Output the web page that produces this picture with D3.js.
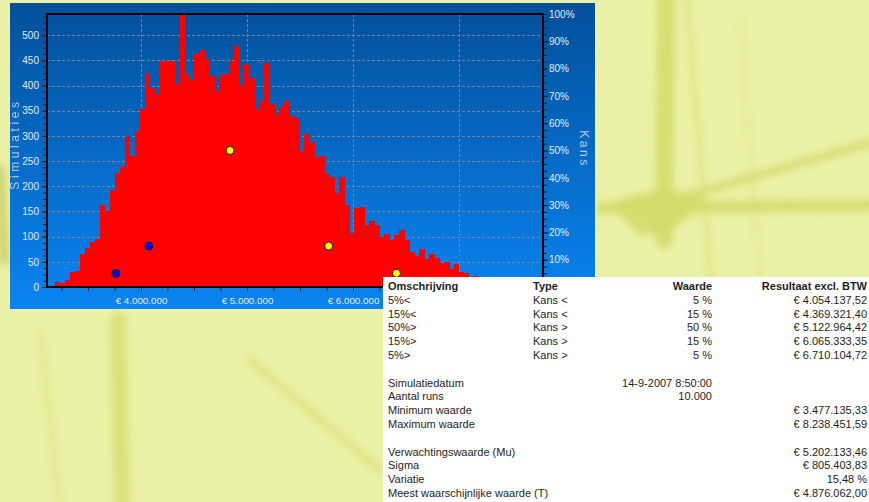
<!DOCTYPE html>
<html>
<head>
<meta charset="utf-8">
<script src="https://cdn.jsdelivr.net/npm/d3@7"></script>
<style>
  body { margin: 0; background: #ebf1a6; overflow: hidden; }
  svg { display: block; }
</style>
</head>
<body>
<div id="chart"></div>
<script>
// Monte Carlo histogram (simulaties per bin)

// bins: first bin lower edge and bin width (euro)
const binStart = 3091500;
const binWidth = 47100;
const counts = [
  2, 2, 9, 7, 13, 29, 32, 65, 78, 90,
  95, 163, 151, 193, 226, 239, 300, 261, 310, 354,
  424, 396, 383, 449, 449, 448, 403, 542, 423, 411,
  463, 471, 452, 419, 389, 420, 423, 449, 478, 401,
  443, 414, 353, 369, 444, 364, 343, 357, 369, 340,
  333, 270, 303, 287, 259, 260, 224, 219, 186, 219,
  162, 108, 156, 158, 123, 131, 123, 100, 106, 94,
  104, 113, 93, 70, 62, 75, 56, 65, 57, 48,
  49, 36, 46, 29, 27, 19, 21, 15, 13, 11,
  9, 8, 6, 5, 4, 3, 3, 2, 1, 1
];

// percentile markers (x in euro, y in % kans)
const markerValues = [3763000, 4074000, 4840000, 5770000, 6410000];
const markerChance = [5, 15, 50, 15, 5];
const markerColors = ["#0000ff", "#0000ff", "#ffff00", "#ffff00", "#ffff00"];

const xTicks = [4000000, 5000000, 6000000, 7000000];
const yTicks = [0, 50, 100, 150, 200, 250, 300, 350, 400, 450, 500];
const pctTicks = [10, 20, 30, 40, 50, 60, 70, 80, 90, 100];

// table below the chart
const tableHeader = ["Omschrijving", "Type", "Waarde", "Resultaat excl. BTW"];
const tableRows = [
  ["5%<", "Kans <", "5 %", "€ 4.054.137,52"],
  ["15%<", "Kans <", "15 %", "€ 4.369.321,40"],
  ["50%>", "Kans >", "50 %", "€ 5.122.964,42"],
  ["15%>", "Kans >", "15 %", "€ 6.065.333,35"],
  ["5%>", "Kans >", "5 %", "€ 6.710.104,72"],
  ["", "", "", ""],
  ["Simulatiedatum", "", "14-9-2007 8:50:00", ""],
  ["Aantal runs", "", "10.000", ""],
  ["Minimum waarde", "", "", "€ 3.477.135,33"],
  ["Maximum waarde", "", "", "€ 8.238.451,59"],
  ["", "", "", ""],
  ["Verwachtingswaarde (Mu)", "", "", "€ 5.202.133,46"],
  ["Sigma", "", "", "€ 805.403,83"],
  ["Variatie", "", "", "15,48 %"],
  ["Meest waarschijnlijke waarde (T)", "", "", "€ 4.876.062,00"]
];

const W = 869, H = 502;
const panel = {x: 10, y: 3, w: 585, h: 306};
const plot = {left: 47, top: 14, right: 543, bottom: 287};

const svg = d3.select("#chart")
    .append("svg")
    .attr("width", W)
    .attr("height", H)
    .style("font-family", "'Liberation Sans', Arial, sans-serif");

const defs = svg.append("defs");
const grad = defs.append("linearGradient")
    .attr("id", "bluegrad")
    .attr("x1", 0).attr("y1", 0).attr("x2", 0).attr("y2", 1);
grad.append("stop").attr("offset", "0%").attr("stop-color", "#02509a");
grad.append("stop").attr("offset", "100%").attr("stop-color", "#0a84f2");

defs.append("filter").attr("id", "blur")
    .attr("x", "-20%").attr("y", "-20%").attr("width", "140%").attr("height", "140%")
  .append("feGaussianBlur").attr("stdDeviation", 3.5);

defs.append("clipPath").attr("id", "plotclip")
  .append("rect")
    .attr("x", plot.left).attr("y", plot.top)
    .attr("width", plot.right - plot.left)
    .attr("height", plot.bottom - plot.top);

// blurred photo in the background
const bg = svg.append("g").attr("filter", "url(#blur)")
    .style("fill", "none")
    .style("stroke", "#d3da68")
    .style("stroke-linecap", "round");
bg.append("path").attr("d", "M666,-10 L664,240").style("stroke-width", 18).style("opacity", 0.85);
bg.append("path").attr("d", "M686,-10 L712,290").style("stroke-width", 4).style("opacity", 0.7);
bg.append("path").attr("d", "M740,20 L760,280").style("stroke-width", 3).style("opacity", 0.5);
bg.append("path").attr("d", "M600,208 L880,205").style("stroke-width", 12).style("opacity", 0.85);
bg.append("path").attr("d", "M690,195 L880,140").style("stroke-width", 9).style("opacity", 0.75);
bg.append("path").attr("d", "M615,205 Q660,185 700,200 Q680,230 640,232 Z")
    .style("fill", "#d3da68").style("stroke-width", 6).style("opacity", 0.85);
bg.append("path").attr("d", "M118,320 L122,510").style("stroke-width", 16).style("opacity", 0.7);
bg.append("path").attr("d", "M40,330 L60,510").style("stroke-width", 6).style("opacity", 0.4);
bg.append("path").attr("d", "M0,170 L4,260").style("stroke", "#c8cc66").style("stroke-width", 10).style("opacity", 0.8);
bg.append("path").attr("d", "M250,360 L380,470").style("stroke-width", 8).style("opacity", 0.5);

// chart panel
svg.append("rect")
    .attr("x", panel.x).attr("y", panel.y)
    .attr("width", panel.w).attr("height", panel.h)
    .style("fill", "url(#bluegrad)");

// scales
const x = d3.scaleLinear()
    .domain([3113200, 7792400])
    .range([plot.left, plot.right]);
const y = d3.scaleLinear()
    .domain([0, 542])
    .range([plot.bottom, plot.top]);
const yPct = d3.scaleLinear()
    .domain([0, 100])
    .range([plot.bottom, plot.top]);

// grid
const grid = svg.append("g")
    .style("stroke", "#7c838e")
    .style("stroke-width", 1)
    .style("stroke-dasharray", "3,2");
grid.selectAll(".hgrid")
    .data(yTicks.filter(d => d > 0))
    .join("line")
      .attr("x1", plot.left).attr("x2", plot.right)
      .attr("y1", d => Math.round(y(d)) + 0.5)
      .attr("y2", d => Math.round(y(d)) + 0.5);
grid.selectAll(".vgrid")
    .data(xTicks)
    .join("line")
      .attr("x1", d => Math.round(x(d)) + 0.5)
      .attr("x2", d => Math.round(x(d)) + 0.5)
      .attr("y1", plot.top).attr("y2", plot.bottom);

// histogram bars
svg.append("g")
    .attr("clip-path", "url(#plotclip)")
    .selectAll("rect")
    .data(counts)
    .join("rect")
      .attr("x", (d, i) => x(binStart + i * binWidth))
      .attr("width", (d, i) => x(binStart + (i + 1) * binWidth) - x(binStart + i * binWidth) + 0.4)
      .attr("y", d => y(d))
      .attr("height", d => y(0) - y(d))
      .style("fill", "#ff0000")
      .style("shape-rendering", "crispEdges");

// markers
svg.append("g")
    .selectAll("circle")
    .data(markerValues)
    .join("circle")
      .attr("cx", d => x(d))
      .attr("cy", (d, i) => yPct(markerChance[i]))
      .attr("r", 4)
      .style("fill", (d, i) => markerColors[i])
      .style("stroke", "#1a1a1a")
      .style("stroke-width", 1);

// plot border
svg.append("rect")
    .attr("x", plot.left).attr("y", plot.top)
    .attr("width", plot.right - plot.left)
    .attr("height", plot.bottom - plot.top)
    .style("fill", "none")
    .style("stroke", "#000")
    .style("stroke-width", 2);

const tickColor = "#1e2a3a";
const labelColor = "#e4ecf5";

// left axis
const yAxis = svg.append("g")
    .attr("transform", `translate(${plot.left - 1}, 0)`)
    .call(d3.axisLeft(y).tickValues(yTicks).tickSize(4).tickPadding(3));
yAxis.select(".domain").remove();
yAxis.selectAll("line").style("stroke", tickColor);
yAxis.selectAll("text").style("fill", labelColor).style("font-size", "10px")
    .style("font-family", "'Liberation Sans', Arial, sans-serif");
const yMinor = svg.append("g")
    .attr("transform", `translate(${plot.left - 1}, 0)`)
    .call(d3.axisLeft(y).tickValues(d3.range(0, 541, 12.5)).tickSize(3).tickFormat(""));
yMinor.select(".domain").remove();
yMinor.selectAll("line").style("stroke", tickColor);

// right axis
const pAxis = svg.append("g")
    .attr("transform", `translate(${plot.right + 1}, 0)`)
    .call(d3.axisRight(yPct).tickValues(pctTicks).tickSize(4).tickPadding(1).tickFormat(d => d + "%"));
pAxis.select(".domain").remove();
pAxis.selectAll("line").style("stroke", tickColor);
pAxis.selectAll("text").style("fill", labelColor).style("font-size", "10px")
    .style("font-family", "'Liberation Sans', Arial, sans-serif");
const pMinor = svg.append("g")
    .attr("transform", `translate(${plot.right + 1}, 0)`)
    .call(d3.axisRight(yPct).tickValues(d3.range(0, 100.1, 2.5)).tickSize(3).tickFormat(""));
pMinor.select(".domain").remove();
pMinor.selectAll("line").style("stroke", tickColor);

// bottom axis
const euro = d => "€ " + d3.format(",")(d).replace(/,/g, ".");
const xAxis = svg.append("g")
    .attr("transform", `translate(0, ${plot.bottom + 1})`)
    .call(d3.axisBottom(x).tickValues(xTicks).tickSize(3).tickPadding(6).tickFormat(euro));
xAxis.select(".domain").remove();
xAxis.selectAll("line").style("stroke", tickColor);
xAxis.selectAll("text").style("fill", labelColor).style("font-size", "9.8px")
    .style("font-family", "'Liberation Sans', Arial, sans-serif");
const xMinor = svg.append("g")
    .attr("transform", `translate(0, ${plot.bottom + 1})`)
    .call(d3.axisBottom(x).tickValues(d3.range(3250000, 7790000, 250000)).tickSize(3).tickFormat(""));
xMinor.select(".domain").remove();
xMinor.selectAll("line").style("stroke", tickColor);

// axis titles
svg.append("text")
    .attr("transform", `translate(19, 144) rotate(-90)`)
    .attr("text-anchor", "middle")
    .style("font-size", "12px")
    .style("letter-spacing", "3.6px")
    .style("fill", "#b4c9e0")
    .text("Simulaties");
svg.append("text")
    .attr("transform", `translate(580, 149) rotate(90)`)
    .attr("text-anchor", "middle")
    .style("font-size", "12px")
    .style("letter-spacing", "2.6px")
    .style("fill", "#b4c9e0")
    .text("Kans");

// table
const table = {x: 383, y: 277, w: W - 383, h: H - 277};
svg.append("rect")
    .attr("x", table.x).attr("y", table.y)
    .attr("width", table.w).attr("height", table.h)
    .style("fill", "#ffffff");

const colX = [388, 533, 712, 867];
const colAnchor = ["start", "start", "end", "end"];
const rowBase = 290, rowStep = 13.8;

const tg = svg.append("g")
    .style("font-size", "11px")
    .style("fill", "#1e1e1e");

tg.selectAll(".head")
    .data(tableHeader)
    .join("text")
      .attr("x", (d, i) => colX[i])
      .attr("y", rowBase)
      .attr("text-anchor", (d, i) => colAnchor[i])
      .style("font-weight", "bold")
      .text(d => d);

tableRows.forEach(function(row, r) {
  tg.selectAll(".row" + r)
    .data(row)
    .join("text")
      .attr("x", (d, i) => colX[i])
      .attr("y", rowBase + (r + 1) * rowStep)
      .attr("text-anchor", (d, i) => colAnchor[i])
      .text(d => d);
});
</script>
</body>
</html>
